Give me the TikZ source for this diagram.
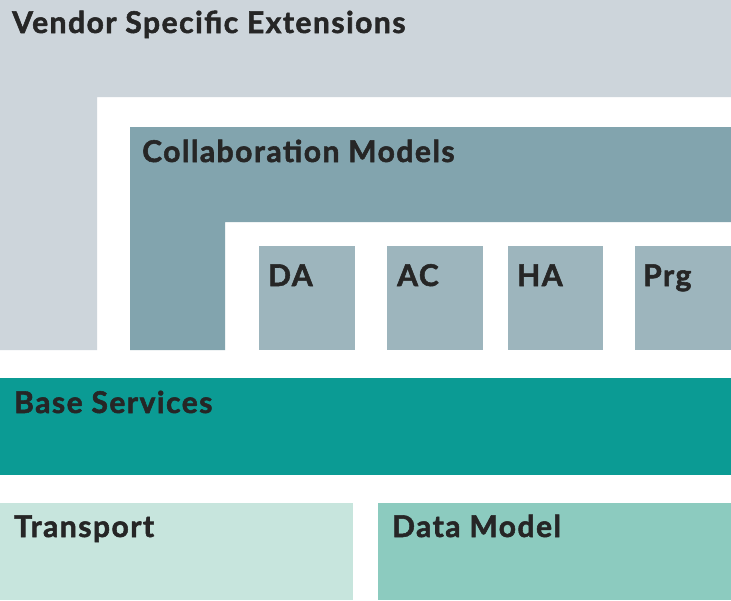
\documentclass[tikz,border=0pt]{standalone}
\usepackage{fontspec}
\newfontfamily\heavy{Lato Bold}[FakeBold=1.8,LetterSpace=5]
\begin{document}
\begin{tikzpicture}[x=1pt,y=-1pt,
  lbl/.style={anchor=base west,font=\fontsize{30}{32}\heavy,text=black!85,inner sep=0},
  box/.style={fill=#1,draw=none}]
\definecolor{vend}{HTML}{CDD5DB}
\definecolor{coll}{HTML}{82A4AE}
\definecolor{sub}{HTML}{9DB5BD}
\definecolor{base}{HTML}{0B9B94}
\definecolor{trans}{HTML}{C7E5DD}
\definecolor{dm}{HTML}{8CCBBF}
\useasboundingbox[fill=white] (0,0) rectangle (731,600);
\fill[vend] (0,0) -- (731,0) -- (731,97) -- (97,97) -- (97,350) -- (0,350) -- cycle;
\fill[coll] (130,127) -- (731,127) -- (731,222) -- (225,222) -- (225,350) -- (130,350) -- cycle;
\node[lbl] (vse) at (12,33) {Vendor Specific Extensions};
\node[lbl] (cm) at (142,162) {Collaboration Models};
\fill[sub] (259,246) rectangle (355,350); \node[lbl] (da) at (268,286) {DA};
\fill[sub] (387,246) rectangle (483,350); \node[lbl] (ac) at (397,286) {AC};
\fill[sub] (508,246) rectangle (603,350); \node[lbl] (ha) at (517,286) {HA};
\fill[sub] (635,246) rectangle (731,350); \node[lbl] (prg) at (643,286) {Prg};
\fill[base] (0,378) rectangle (731,475); \node[lbl] (bs) at (14,413) {Base Services};
\fill[trans] (0,503) rectangle (353,600); \node[lbl] (tr) at (14,537) {Transport};
\fill[dm] (378,503) rectangle (731,600); \node[lbl] (dmod) at (392,537) {Data Model};
\end{tikzpicture}
\end{document}
